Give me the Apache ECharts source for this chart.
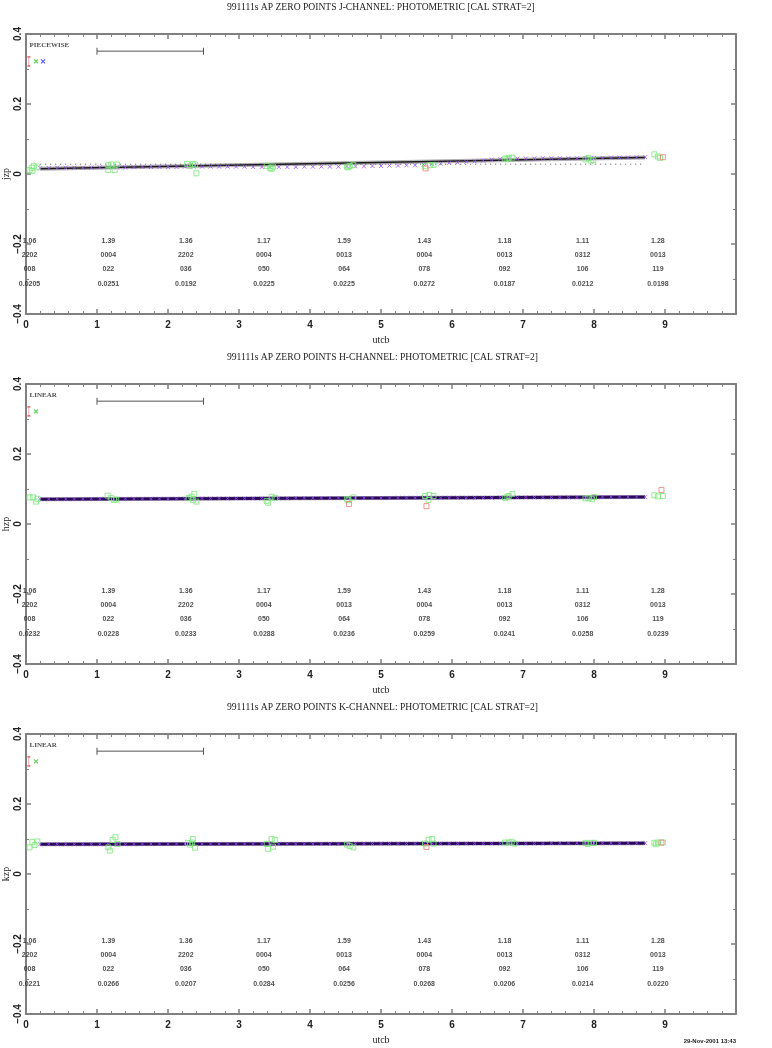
<!DOCTYPE html>
<html><head><meta charset="utf-8">
<script src="https://cdn.jsdelivr.net/npm/echarts@6/dist/echarts.min.js"></script>
<style>html,body{margin:0;padding:0;background:#fff}#c{width:772px;height:1048px}</style>
</head><body><div id="c"></div>
<script>
// ---------- DATA ----------
const titles = [
  '991111s AP ZERO POINTS J-CHANNEL: PHOTOMETRIC [CAL STRAT=2]',
  '991111s AP ZERO POINTS H-CHANNEL: PHOTOMETRIC [CAL STRAT=2]',
  '991111s AP ZERO POINTS K-CHANNEL: PHOTOMETRIC [CAL STRAT=2]'
];
const yNames = ['jzp', 'hzp', 'kzp'];
const fitModes = ['PIECEWISE', 'LINEAR', 'LINEAR'];
const xTicks = [0,1,2,3,4,5,6,7,8,9];
const dateStamp = '29-Nov-2001 13:43';

// table columns (time of each standard block) and rows
const colTimes = [0.05,1.16,2.25,3.35,4.48,5.61,6.74,7.84,8.90];
const rowLevels = [-0.193,-0.233,-0.271,-0.314];
const airmass = ['1.06','1.39','1.36','1.17','1.59','1.43','1.18','1.11','1.28'];
const stdIds  = ['2202','0004','2202','0004','0013','0004','0013','0312','0013'];
const frames  = ['008','022','036','050','064','078','092','106','119'];
const rmsJ = ['0.0205','0.0251','0.0192','0.0225','0.0225','0.0272','0.0187','0.0212','0.0198'];
const rmsH = ['0.0232','0.0228','0.0233','0.0288','0.0236','0.0259','0.0241','0.0258','0.0239'];
const rmsK = ['0.0221','0.0266','0.0207','0.0284','0.0256','0.0268','0.0206','0.0214','0.0220'];

// measured zero points (green) and rejected (red)
const jGreen = [[0.05,0.011],[0.08,0.018],[0.11,0.023],[0.16,0.019],[0.09,0.009],
 [1.16,0.025],[1.20,0.027],[1.25,0.011],[1.28,0.027],[1.16,0.011],
 [2.27,0.029],[2.35,0.029],[2.38,0.027],[2.40,0.002],[2.31,0.023],
 [3.39,0.023],[3.44,0.017],[3.48,0.021],[3.46,0.015],
 [4.52,0.021],[4.56,0.023],[4.61,0.026],[4.54,0.019],
 [5.62,0.022],[5.69,0.025],[5.74,0.026],
 [6.75,0.044],[6.80,0.046],[6.85,0.047],[6.78,0.043],
 [7.88,0.042],[7.92,0.046],[7.96,0.038],[7.99,0.040],
 [8.85,0.056],[8.90,0.050],[8.93,0.046]];
const jRed = [[5.63,0.016],[8.97,0.048]];
const hGreen = [[0.05,0.076],[0.10,0.076],[0.14,0.064],[0.16,0.072],
 [1.15,0.081],[1.20,0.074],[1.24,0.069],[1.27,0.070],
 [2.29,0.074],[2.33,0.078],[2.37,0.086],[2.40,0.064],[2.35,0.069],
 [3.39,0.066],[3.41,0.061],[3.46,0.078],[3.51,0.074],
 [4.52,0.071],[4.61,0.076],[4.54,0.068],
 [5.62,0.080],[5.68,0.083],[5.74,0.080],[5.67,0.069],
 [6.75,0.074],[6.80,0.080],[6.85,0.086],[6.78,0.078],
 [7.88,0.073],[7.92,0.074],[7.97,0.071],[8.00,0.077],
 [8.85,0.082],[8.90,0.079],[8.97,0.080]];
const hRed = [[4.55,0.057],[5.64,0.051],[8.95,0.097]];
const kGreen = [[0.05,0.076],[0.09,0.091],[0.12,0.083],[0.16,0.093],
 [1.16,0.076],[1.18,0.067],[1.22,0.097],[1.26,0.105],[1.29,0.086],
 [2.28,0.089],[2.31,0.084],[2.35,0.100],[2.38,0.075],[2.34,0.090],
 [3.39,0.086],[3.41,0.072],[3.46,0.100],[3.51,0.097],[3.48,0.078],
 [4.52,0.084],[4.56,0.080],[4.61,0.076],
 [5.62,0.087],[5.67,0.098],[5.72,0.100],[5.74,0.087],
 [6.75,0.090],[6.80,0.090],[6.84,0.092],[6.88,0.087],
 [7.88,0.089],[7.91,0.086],[7.96,0.089],[8.00,0.089],
 [8.85,0.089],[8.87,0.085],[8.90,0.090],[8.97,0.090]];
const kRed = [[5.64,0.077],[8.95,0.090]];

// fitted zero-point curves
const jFit = [[0.2,0.015],[8.72,0.047]];
const jRef = [[0.2,0.028],[8.72,0.028]];
const hFit = [[0.2,0.071],[8.72,0.077]];
const kFit = [[0.2,0.085],[8.72,0.088]];

// model evaluation times and values (purple crosses)
const modelTimes = [0.20,0.32,0.44,0.56,0.68,0.80,0.92,1.04,1.16,1.28,1.40,1.52,1.64,1.76,1.88,2.00,2.12,2.24,2.36,2.48,2.60,2.72,2.84,2.96,3.08,3.20,3.32,3.44,3.56,3.68,3.80,3.92,4.04,4.16,4.28,4.40,4.52,4.64,4.76,4.88,5.00,5.12,5.24,5.36,5.48,5.60,5.72,5.84,5.96,6.08,6.20,6.32,6.44,6.56,6.68,6.80,6.92,7.04,7.16,7.28,7.40,7.52,7.64,7.76,7.88,8.00,8.12,8.24,8.36,8.48,8.60,8.72];
const jModel = [0.017,0.017,0.018,0.018,0.018,0.018,0.018,0.019,0.019,0.019,0.019,0.019,0.020,0.020,0.020,0.020,0.020,0.021,0.021,0.021,0.021,0.021,0.021,0.021,0.021,0.020,0.020,0.020,0.020,0.020,0.020,0.021,0.021,0.021,0.021,0.021,0.022,0.022,0.022,0.023,0.023,0.024,0.024,0.025,0.025,0.027,0.029,0.030,0.032,0.033,0.035,0.036,0.038,0.041,0.043,0.044,0.044,0.044,0.044,0.045,0.045,0.045,0.045,0.045,0.046,0.046,0.046,0.047,0.047,0.047,0.048,0.048];
const hModel = [0.071,0.071,0.071,0.071,0.071,0.071,0.072,0.072,0.072,0.072,0.072,0.072,0.072,0.072,0.072,0.072,0.072,0.072,0.073,0.073,0.073,0.073,0.073,0.073,0.073,0.073,0.073,0.073,0.073,0.073,0.074,0.074,0.074,0.074,0.074,0.074,0.074,0.074,0.074,0.074,0.074,0.074,0.075,0.075,0.075,0.075,0.075,0.075,0.075,0.075,0.075,0.075,0.075,0.075,0.076,0.076,0.076,0.076,0.076,0.076,0.076,0.076,0.076,0.076,0.076,0.076,0.077,0.077,0.077,0.077,0.077,0.077];
const kModel = [0.085,0.085,0.085,0.085,0.085,0.085,0.085,0.085,0.085,0.085,0.085,0.085,0.086,0.086,0.086,0.086,0.086,0.086,0.086,0.086,0.086,0.086,0.086,0.086,0.086,0.086,0.086,0.086,0.086,0.086,0.086,0.086,0.086,0.086,0.086,0.086,0.087,0.087,0.087,0.087,0.087,0.087,0.087,0.087,0.087,0.087,0.087,0.087,0.087,0.087,0.087,0.087,0.087,0.087,0.087,0.087,0.087,0.087,0.087,0.087,0.088,0.088,0.088,0.088,0.088,0.088,0.088,0.088,0.088,0.088,0.088,0.088];

// legend key marks (top-left of each panel)
const keyTextPos = [0.05, 0.369];
const keyErrPos = [0.04, 0.322];
const keyGreenPos = [0.14, 0.322];
const keyBluePos = [0.24, 0.322];
const scaleBar = [[1.0,0.351],[2.5,0.351]];

// ---------- CHART ----------
const panels = [
  {green:jGreen, red:jRed, fit:jFit, ref:jRef, model:jModel, rms:rmsJ, blue:true, dark:'#1a1a1a', fitW:1.5},
  {green:hGreen, red:hRed, fit:hFit, ref:null, model:hModel, rms:rmsH, blue:false, dark:'#2a0a5a', fitW:3},
  {green:kGreen, red:kRed, fit:kFit, ref:null, model:kModel, rms:rmsK, blue:false, dark:'#2a0a5a', fitW:3}
];
const tops = [34, 384, 734];
const AX = '#808080';
const xPath = 'path://M0,0L10,10M10,0L0,10';
const errPath = 'path://M0,0L6,0M3,0L3,20M0,20L6,20';
const GREEN = '#78e878', RED = '#f07878', PURPLE = '#9a50f0';

const grid = tops.map(t => ({left:26, right:36, top:t, height:280, containLabel:false, outerBoundsMode:'none'}));
const xAxis = [], yAxis = [], series = [];
const ylab = v => Math.abs(v) < 1e-9 ? '0' : (v < 0 ? '\u2212' + Math.abs(v).toFixed(1) : v.toFixed(1));

panels.forEach((p, i) => {
  const base = {gridIndex:i, type:'value', min:0, max:10, interval:1,
    axisLine:{show:true, onZero:false, lineStyle:{color:AX, width:2}},
    axisTick:{show:true, inside:true, length:5, lineStyle:{color:AX, width:1.5}},
    minorTick:{show:true, splitNumber:5, length:3, lineStyle:{color:AX, width:1}},
    splitLine:{show:false}};
  xAxis.push(Object.assign({}, base, {position:'bottom',
    name:'utcb', nameLocation:'middle', nameGap:21, nameMoveOverlap:false,
    nameTextStyle:{fontFamily:'Liberation Serif', fontSize:10, color:'#222'},
    axisLabel:{show:true, margin:6, fontFamily:'Liberation Sans', fontWeight:'bold', fontSize:10, color:'#222',
      formatter: v => xTicks.includes(v) ? String(v) : ''}}));
  xAxis.push(Object.assign({}, base, {position:'top', axisLabel:{show:false}}));
  const ybase = {gridIndex:i, type:'value', min:-0.4, max:0.4, interval:0.2,
    axisLine:{show:true, onZero:false, lineStyle:{color:AX, width:2}},
    axisTick:{show:true, inside:true, length:5, lineStyle:{color:AX, width:1.5}},
    minorTick:{show:true, splitNumber:2, length:3, lineStyle:{color:AX, width:1}},
    splitLine:{show:false}};
  yAxis.push(Object.assign({}, ybase, {position:'left',
    name:yNames[i], nameLocation:'middle', nameGap:15, nameRotate:90, nameMoveOverlap:false,
    nameTextStyle:{fontFamily:'Liberation Serif', fontSize:10, color:'#222'},
    axisLabel:{show:true, rotate:90, margin:3, fontFamily:'Liberation Sans', fontWeight:'bold', fontSize:10, color:'#222', formatter:ylab}}));
  yAxis.push(Object.assign({}, ybase, {position:'right', axisLabel:{show:false}}));

  const ax = {xAxisIndex:2*i, yAxisIndex:2*i, silent:true, animation:false};
  series.push(Object.assign({type:'line', data:p.fit, symbol:'none', lineStyle:{color:'#b4b4b4', width:4}, z:2}, ax));
  if (p.ref) series.push(Object.assign({type:'line', data:p.ref, symbol:'none', lineStyle:{color:'#555', width:1, type:[1,4]}, z:3}, ax));
  series.push(Object.assign({type:'line', data:p.fit, symbol:'none', lineStyle:{color:p.dark, width:p.fitW}, z:4}, ax));
  series.push(Object.assign({type:'scatter', data:modelTimes.map((t,k)=>[t,p.model[k]]), symbol:xPath, symbolSize:4,
    itemStyle:{color:'rgba(0,0,0,0)', borderColor:PURPLE, borderWidth:1}, z:5}, ax));
  series.push(Object.assign({type:'scatter', data:p.green, symbol:'rect', symbolSize:5,
    itemStyle:{color:'rgba(0,0,0,0)', borderColor:GREEN, borderWidth:1}, z:6}, ax));
  series.push(Object.assign({type:'scatter', data:p.red, symbol:'rect', symbolSize:5,
    itemStyle:{color:'rgba(0,0,0,0)', borderColor:RED, borderWidth:1}, z:6}, ax));
  series.push(Object.assign({type:'scatter', data:[keyTextPos], symbolSize:0,
    label:{show:true, position:'inside', align:'left', formatter:fitModes[i], fontFamily:'Liberation Serif', fontWeight:'bold', fontSize:7, color:'#222'}, z:7}, ax));
  series.push(Object.assign({type:'scatter', data:[keyErrPos], symbol:errPath, symbolSize:[3,9],
    itemStyle:{color:'rgba(0,0,0,0)', borderColor:'#f05050', borderWidth:1}, z:7}, ax));
  series.push(Object.assign({type:'scatter', data:[keyGreenPos], symbol:xPath, symbolSize:4,
    itemStyle:{color:'rgba(0,0,0,0)', borderColor:'#30d030', borderWidth:1.2}, z:7}, ax));
  if (p.blue) series.push(Object.assign({type:'scatter', data:[keyBluePos], symbol:xPath, symbolSize:4,
    itemStyle:{color:'rgba(0,0,0,0)', borderColor:'#3030ff', borderWidth:1.2}, z:7}, ax));
  series.push(Object.assign({type:'line', data:scaleBar, symbol:'rect', symbolSize:[1,7], showSymbol:true,
    itemStyle:{color:'#555'}, lineStyle:{color:'#555', width:1}, z:7}, ax));
  const rows = [airmass, stdIds, frames, p.rms];
  const tbl = [];
  rows.forEach((r, ri) => r.forEach((s, ci) => tbl.push({value:[colTimes[ci], rowLevels[ri]], txt:s})));
  series.push(Object.assign({type:'scatter', data:tbl, symbolSize:0,
    label:{show:true, position:'inside', formatter: d => d.data.txt, fontFamily:'Liberation Sans', fontWeight:'bold', fontSize:7, color:'#222'}, z:8}, ax));
});

const graphic = titles.map((t, i) => ({type:'text', left:227, top:tops[i] - 32,
  style:{text:t, fontFamily:'Liberation Serif', fontSize:9.6, fill:'#222'}}));
graphic.push({type:'text', right:36, top:1038, style:{text:dateStamp, fontFamily:'Liberation Sans', fontWeight:'bold', fontSize:6, fill:'#222'}});

const chart = echarts.init(document.getElementById('c'), null, {renderer:'canvas'});
chart.setOption({animation:false, backgroundColor:'#fff', grid, xAxis, yAxis, series, graphic});
</script></body></html>
